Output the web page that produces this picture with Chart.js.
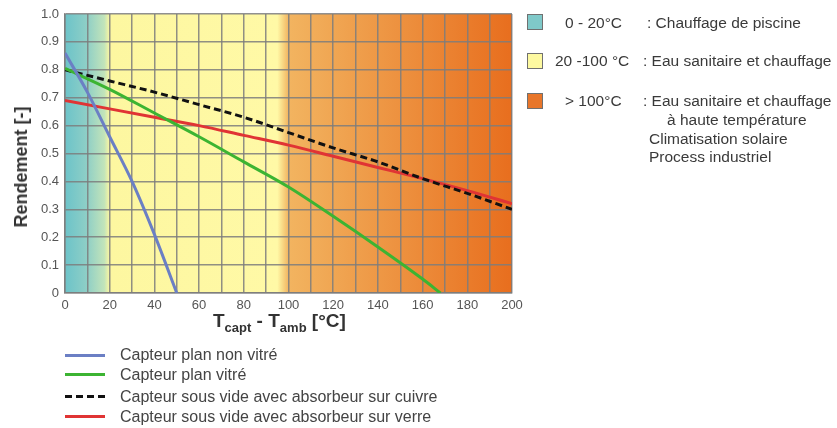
<!DOCTYPE html>
<html>
<head>
<meta charset="utf-8">
<script src="https://cdn.jsdelivr.net/npm/chart.js@4.4.0/dist/chart.umd.min.js"></script>
<style>
  html, body { margin: 0; padding: 0; background: #fff; }
  #wrap { position: relative; width: 837px; height: 428px; font-family: "Liberation Sans", Arial, sans-serif; color: #333; }
  #c { position: absolute; left: 0; top: 0; }
  .t { position: absolute; white-space: nowrap; line-height: 1; }
  .box { position: absolute; width: 14px; height: 14px; border: 1px solid #707070; }
  .ln { position: absolute; width: 40px; height: 3px; }
  .leg { font-size: 15.5px; color: #3a3a3a; }
  .bl { font-size: 16px; color: #444; }
</style>
</head>
<body>
<div id="wrap">
  <canvas id="c" width="837" height="428"></canvas>

  <div class="t" style="left:0;top:0;width:40px;height:0;"></div>
  <div class="t" id="ytitle" style="font-weight:bold;font-size:18px;color:#333;left:21px;top:167px;transform:translate(-50%,-50%) rotate(-90deg);">Rendement [-]</div>
  <div class="t" style="font-weight:bold;font-size:19px;color:#333;left:213px;top:311px;">T<sub style="font-size:13px;">capt</sub> - T<sub style="font-size:13px;">amb</sub> [°C]</div>

  <div class="box" style="left:527px;top:14px;background:#7fc9c9;"></div>
  <div class="box" style="left:527px;top:53px;background:#fdf9a0;"></div>
  <div class="box" style="left:527px;top:93px;background:#e8762a;"></div>
  <div class="t leg" style="left:565px;top:15px;">0 - 20°C</div>
  <div class="t leg" style="left:647px;top:15px;">: Chauffage de piscine</div>
  <div class="t leg" style="left:555px;top:53px;">20 -100 °C</div>
  <div class="t leg" style="left:643px;top:53px;">: Eau sanitaire et chauffage</div>
  <div class="t leg" style="left:565px;top:93px;">&gt; 100°C</div>
  <div class="t leg" style="left:643px;top:93px;">: Eau sanitaire et chauffage</div>
  <div class="t leg" style="left:667px;top:112px;">à haute température</div>
  <div class="t leg" style="left:649px;top:131px;">Climatisation solaire</div>
  <div class="t leg" style="left:649px;top:149px;">Process industriel</div>

  <div class="ln" style="left:65px;top:354px;background:#6b7fc4;"></div>
  <div class="ln" style="left:65px;top:373px;background:#3cb432;"></div>
  <div class="ln" style="left:65px;top:395px;background:repeating-linear-gradient(90deg,#111 0 7px,transparent 7px 11px);"></div>
  <div class="ln" style="left:65px;top:415px;background:#e03434;"></div>
  <div class="t bl" style="left:120px;top:347px;">Capteur plan non vitré</div>
  <div class="t bl" style="left:120px;top:367px;">Capteur plan vitré</div>
  <div class="t bl" style="left:120px;top:389px;">Capteur sous vide avec absorbeur sur cuivre</div>
  <div class="t bl" style="left:120px;top:409px;">Capteur sous vide avec absorbeur sur verre</div>
</div>

<script>
// Tcapt - Tamb (°C) and efficiency
const nonVitreT = [0, 10, 20, 30, 40, 50];
const nonVitre = [0.86, 0.72, 0.56, 0.40, 0.21, 0];

const vitreT = [0, 20, 40, 60, 80, 100, 120, 140, 160, 168];
const vitre = [0.805, 0.73, 0.645, 0.56, 0.47, 0.38, 0.275, 0.165, 0.05, 0];

const videT = [0, 20, 40, 60, 80, 100, 120, 140, 160, 180, 200];
const cuivre = [0.80, 0.76, 0.72, 0.675, 0.63, 0.575, 0.52, 0.47, 0.41, 0.357, 0.30];
const verre = [0.69, 0.66, 0.63, 0.60, 0.565, 0.53, 0.49, 0.45, 0.41, 0.367, 0.32];

const xLabels = [0, 20, 40, 60, 80, 100, 120, 140, 160, 180, 200];

function pts(xs, ys) {
    return xs.map((x, i) => ({x: x, y: ys[i]}));
}

// coloured temperature zones behind the grid
const zones = {
    id: 'zones',
    beforeDraw(chart) {
        const {ctx, chartArea: a, scales: {x}} = chart;
        const g = ctx.createLinearGradient(x.getPixelForValue(0), 0, x.getPixelForValue(200), 0);
        g.addColorStop(0, '#6cc3c9');
        g.addColorStop(0.05, '#8fcfc6');
        g.addColorStop(0.088, '#c2e4ba');
        g.addColorStop(0.1, '#fdf7a0');
        g.addColorStop(0.475, '#fff9a6');
        g.addColorStop(0.5, '#f2b460');
        g.addColorStop(1, '#e86e1e');
        ctx.save();
        ctx.fillStyle = g;
        ctx.fillRect(a.left, a.top, a.right - a.left, a.bottom - a.top);
        ctx.restore();
    }
};

const gridColor = 'rgba(125,125,125,0.85)';

new Chart(document.getElementById('c'), {
    type: 'line',
    data: {
        datasets: [{
            label: 'Capteur plan non vitré',
            data: pts(nonVitreT, nonVitre),
            borderColor: '#6b7fc4',
            borderWidth: 3,
            pointRadius: 0,
            cubicInterpolationMode: 'monotone'
        }, {
            label: 'Capteur plan vitré',
            data: pts(vitreT, vitre),
            borderColor: '#3cb432',
            borderWidth: 3,
            pointRadius: 0,
            cubicInterpolationMode: 'monotone'
        }, {
            label: 'Capteur sous vide avec absorbeur sur cuivre',
            data: pts(videT, cuivre),
            borderColor: '#111',
            borderWidth: 3,
            borderDash: [7, 4],
            pointRadius: 0,
            cubicInterpolationMode: 'monotone'
        }, {
            label: 'Capteur sous vide avec absorbeur sur verre',
            data: pts(videT, verre),
            borderColor: '#e03434',
            borderWidth: 3,
            pointRadius: 0,
            cubicInterpolationMode: 'monotone'
        }]
    },
    options: {
        responsive: false,
        animation: false,
        layout: {
            padding: {left: 0, top: 14, right: 325, bottom: 113}
        },
        plugins: {
            legend: {display: false},
            tooltip: {enabled: false}
        },
        scales: {
            x: {
                type: 'linear',
                min: 0,
                max: 200,
                afterFit: s => { s.height = 22; },
                grid: {color: gridColor, lineWidth: 1.5, drawTicks: false},
                border: {color: gridColor, width: 1.5},
                ticks: {
                    stepSize: 10,
                    padding: 5,
                    maxRotation: 0,
                    autoSkip: false,
                    color: '#555',
                    font: {family: 'Liberation Sans', size: 13},
                    callback: v => xLabels.includes(v) ? v : ''
                }
            },
            y: {
                min: 0,
                max: 1,
                afterFit: s => { s.width = 65; },
                grid: {color: gridColor, lineWidth: 1.5, drawTicks: false},
                border: {color: gridColor, width: 1.5},
                ticks: {
                    stepSize: 0.1,
                    padding: 6,
                    color: '#555',
                    font: {family: 'Liberation Sans', size: 13},
                    callback: v => v === 0 ? '0' : v.toFixed(1)
                }
            }
        }
    },
    plugins: [zones]
});
</script>
</body>
</html>
